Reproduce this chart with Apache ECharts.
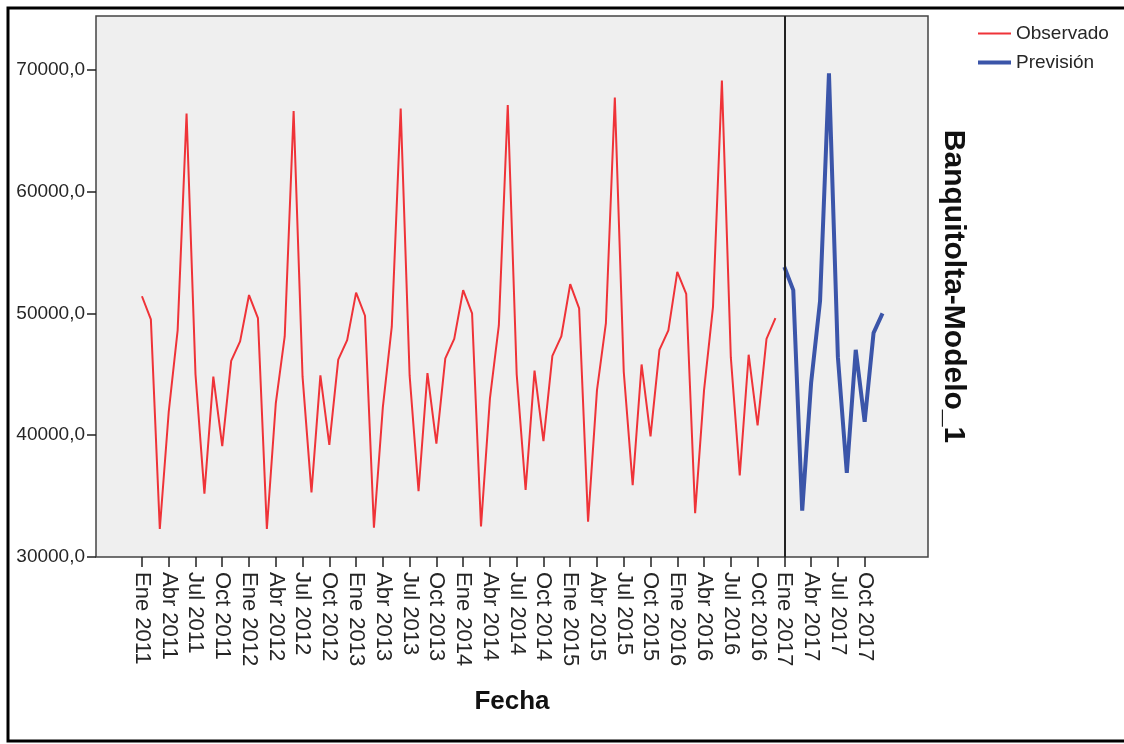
<!DOCTYPE html>
<html>
<head>
<meta charset="utf-8">
<title>Banquitolta-Modelo_1</title>
<script src="https://cdn.jsdelivr.net/npm/echarts@6/dist/echarts.min.js"></script>
<style>
  html, body { margin: 0; padding: 0; background: #ffffff; }
  #chart { width: 1124px; height: 744px; }
</style>
</head>
<body>
<div id="chart"></div>
<script>
// Monthly series, Ene 2011 .. Dic 2016 (observed) and Ene 2017 .. Dic 2017 (forecast)
const observado = [
  51400, 49500, 32300, 41900, 48600, 66400, 45000, 35200, 44800, 39100, 46100, 47700,
  51500, 49600, 32300, 42600, 48100, 66600, 44800, 35300, 44900, 39200, 46200, 47800,
  51700, 49800, 32400, 42300, 48900, 66800, 44900, 35400, 45100, 39300, 46300, 47900,
  51900, 50000, 32500, 43000, 49000, 67100, 45000, 35500, 45300, 39500, 46500, 48100,
  52400, 50400, 32900, 43700, 49200, 67700, 45200, 35900, 45800, 39900, 47000, 48600,
  53400, 51600, 33600, 43700, 50500, 69100, 46400, 36700, 46600, 40800, 47900, 49600
];
const prevision = [
  53800, 51900, 33800, 44300, 51000, 69700, 46400, 36900, 47000, 41100, 48400, 50000
];
// Quarterly tick labels (every 3 months from Ene 2011)
const tickLabels = [
  'Ene 2011', 'Abr 2011', 'Jul 2011', 'Oct 2011',
  'Ene 2012', 'Abr 2012', 'Jul 2012', 'Oct 2012',
  'Ene 2013', 'Abr 2013', 'Jul 2013', 'Oct 2013',
  'Ene 2014', 'Abr 2014', 'Jul 2014', 'Oct 2014',
  'Ene 2015', 'Abr 2015', 'Jul 2015', 'Oct 2015',
  'Ene 2016', 'Abr 2016', 'Jul 2016', 'Oct 2016',
  'Ene 2017', 'Abr 2017', 'Jul 2017', 'Oct 2017'
];
const yTicks = [30000, 40000, 50000, 60000, 70000];

// month index -> value pairs
const obsData = observado.map((v, i) => [i, v]);
const prevStart = observado.length;
const prevData = prevision.map((v, i) => [prevStart + i, v]);
const xTicks = tickLabels.map((_, i) => i * 3);

const FONT = '"Liberation Sans", Arial, sans-serif';
const TEXT = '#262626';
const chart = echarts.init(document.getElementById('chart'), null, { renderer: 'canvas' });

chart.setOption({
  backgroundColor: '#ffffff',
  animation: false,
  graphic: [{
    type: 'rect',
    silent: true,
    shape: { x: 8, y: 8, width: 1130, height: 733 },
    style: { fill: 'none', stroke: '#000000', lineWidth: 3 }
  }],
  legend: [{
    left: 973, top: 19,
    data: [{ name: 'Observado' }],
    icon: 'rect', itemWidth: 33, itemHeight: 2,
    textStyle: { fontFamily: FONT, fontSize: 19, color: TEXT }
  }, {
    left: 973, top: 48,
    data: [{ name: 'Previsión' }],
    icon: 'rect', itemWidth: 33, itemHeight: 4,
    textStyle: { fontFamily: FONT, fontSize: 19, color: TEXT }
  }],
  grid: {
    left: 96, right: 196, top: 16, bottom: 187,
    show: true, backgroundColor: '#efefef', borderColor: '#444', borderWidth: 1.5
  },
  xAxis: {
    type: 'value',
    min: -5.15, max: 88.1,
    name: 'Fecha', nameLocation: 'middle', nameGap: 132,
    nameTextStyle: { fontFamily: FONT, fontSize: 26, fontWeight: 'bold', color: '#111' },
    axisLine: { show: false, onZero: false },
    splitLine: { show: false },
    axisTick: { show: true, length: 10, customValues: xTicks, lineStyle: { color: '#222', width: 1.5 } },
    axisLabel: {
      customValues: xTicks, rotate: -90, margin: 15,
      fontFamily: FONT, fontSize: 22, color: TEXT,
      formatter: v => tickLabels[Math.round(v / 3)]
    }
  },
  yAxis: [{
    type: 'value',
    min: 30000, max: 74400, interval: 10000,
    axisLine: { show: false, onZero: false },
    splitLine: { show: false },
    axisTick: { show: true, length: 9, customValues: yTicks, lineStyle: { color: '#222', width: 1.5 } },
    axisLabel: {
      customValues: yTicks, margin: 11,
      fontFamily: FONT, fontSize: 19, color: TEXT,
      formatter: v => v.toFixed(1).replace('.', ',')
    }
  }, {
    type: 'value', position: 'right',
    min: 30000, max: 74400,
    name: 'Banquitolta-Modelo_1', nameLocation: 'middle', nameRotate: -90, nameGap: 10,
    nameTextStyle: { fontFamily: FONT, fontSize: 30, fontWeight: 'bold', color: '#111' },
    axisLine: { show: false, onZero: false }, axisTick: { show: false },
    axisLabel: { show: false }, splitLine: { show: false }
  }],
  series: [{
    name: 'Observado',
    type: 'line',
    data: obsData,
    showSymbol: false,
    color: '#ef3338',
    lineStyle: { width: 2, color: '#ef3338' }
  }, {
    name: 'Previsión',
    type: 'line',
    data: prevData,
    showSymbol: false,
    color: '#3b55a9',
    lineStyle: { width: 4, color: '#3b55a9' },
    markLine: {
      silent: true, symbol: 'none',
      label: { show: false },
      lineStyle: { color: '#222', width: 2, type: 'solid' },
      data: [{ xAxis: prevStart }]
    }
  }]
});
</script>
</body>
</html>
